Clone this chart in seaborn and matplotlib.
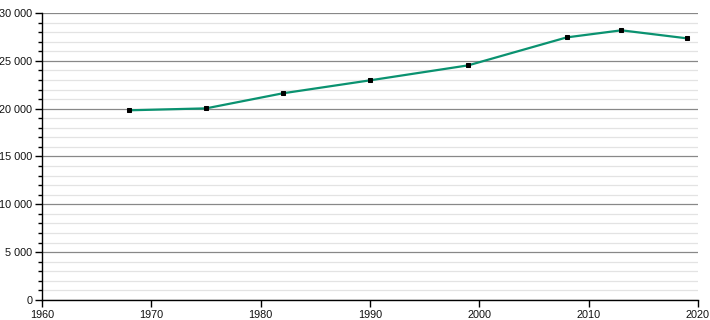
import matplotlib
matplotlib.use("Agg")
import matplotlib.pyplot as plt
import seaborn as sns
import pandas as pd
from matplotlib.ticker import MultipleLocator, FuncFormatter

years = [1968, 1975, 1982, 1990, 1999, 2008, 2013, 2019]
population = [19830, 20030, 21600, 22960, 24530, 27450, 28190, 27350]

df = pd.DataFrame({"year": years, "population": population})

sns.set_style("white")
plt.rcParams['font.family'] = ['Liberation Sans', 'DejaVu Sans']

fig = plt.figure(figsize=(7.1, 3.2), dpi=100)
ax = fig.add_axes([0.0592, 0.0625, 0.9238, 0.8969])

sns.lineplot(data=df, x="year", y="population", ax=ax, color="#0a9270",
             linewidth=1.6, marker="s", markersize=3.3, markerfacecolor="black",
             markeredgecolor="black", zorder=3)

ax.set_xlim(1960, 2020)
ax.set_ylim(0, 30000)
ax.xaxis.set_major_locator(MultipleLocator(10))
ax.yaxis.set_major_locator(MultipleLocator(5000))
ax.yaxis.set_minor_locator(MultipleLocator(1000))
ax.yaxis.set_major_formatter(FuncFormatter(lambda v, p: f"{int(v):,}".replace(",", " ")))

ax.grid(which="major", axis="y", color="#888888", linewidth=0.9, zorder=0)
ax.grid(which="minor", axis="y", color="#e3e3e3", linewidth=0.9, zorder=0)
ax.grid(which="major", axis="x", visible=False)
ax.set_axisbelow(True)

for s in ["top", "right"]:
    ax.spines[s].set_visible(False)
for s in ["left", "bottom"]:
    ax.spines[s].set_color("black")
    ax.spines[s].set_linewidth(1.0)

ax.tick_params(axis="both", which="major", direction="out", length=5, width=1,
               color="black", labelsize=7.8, labelcolor="#111111", pad=2,
               left=True, bottom=True)
ax.tick_params(axis="y", which="minor", direction="out", length=3, width=1,
               color="black", left=True)
ax.set_xlabel("")
ax.set_ylabel("")

fig.savefig("out.png", dpi=100)
